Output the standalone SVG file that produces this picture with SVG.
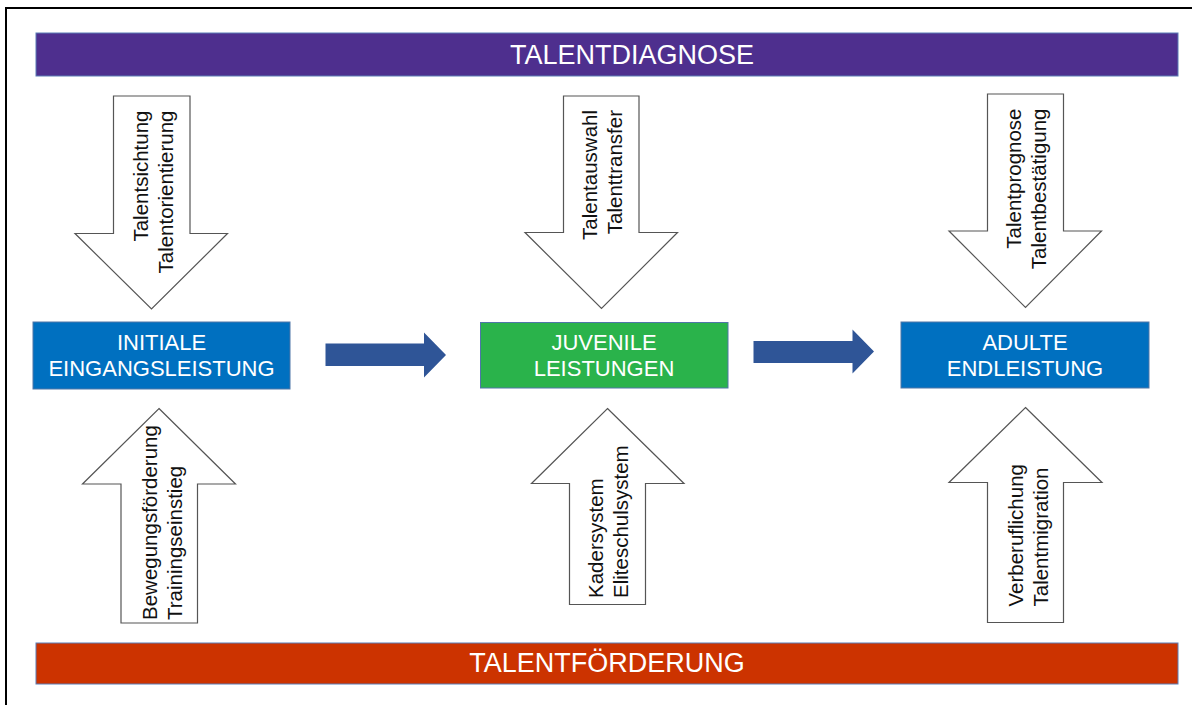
<svg xmlns="http://www.w3.org/2000/svg" width="1192" height="705" viewBox="0 0 1192 705">
<style>
.bar{stroke:#5b7db5;stroke-width:1}
.box{stroke:#4f76a8;stroke-width:1}
.bt{font-family:"Liberation Sans",Arial,sans-serif;font-size:27px;fill:#fff;text-anchor:middle}
.nt{font-family:"Liberation Sans",Arial,sans-serif;font-size:22px;fill:#fff;text-anchor:middle}
.ha{fill:#fff;stroke:#555;stroke-width:1.2}
.vt{font-family:"Liberation Sans",Arial,sans-serif;font-size:20.5px;fill:#111}
.flow{fill:#2f5597}
</style>
<rect width="1192" height="705" fill="#fff"/>
<rect x="6" y="8" width="1200" height="710" fill="none" stroke="#000" stroke-width="2"/>

<g id="talentdiagnose">
<rect class="bar" x="36" y="33" width="1142" height="43" fill="#4e2f8e"/>
<text class="bt" x="632" y="64">TALENTDIAGNOSE</text>
</g>
<g id="talentfoerderung">
<rect class="bar" x="36" y="643" width="1142" height="41" fill="#cc3300"/>
<text class="bt" x="607" y="672">TALENTFÖRDERUNG</text>
</g>

<g id="initiale">
<rect class="box" x="33" y="322" width="257" height="67" fill="#0070c0"/>
<text class="nt" x="161.5" y="349.5">INITIALE</text>
<text class="nt" x="161.5" y="376">EINGANGSLEISTUNG</text>
</g>
<g id="juvenile">
<rect class="box" x="480.5" y="322.5" width="247.5" height="65.5" fill="#2ab34b"/>
<text class="nt" x="604" y="350">JUVENILE</text>
<text class="nt" x="604" y="376">LEISTUNGEN</text>
</g>
<g id="adulte">
<rect class="box" x="901" y="322" width="248" height="66" fill="#0070c0"/>
<text class="nt" x="1025" y="349.5">ADULTE</text>
<text class="nt" x="1025" y="376">ENDLEISTUNG</text>
</g>

<g id="diag-initiale">
<polygon class="ha" points="113.5,96 190,96 190,233.5 227.5,233.5 151.5,309 75,233.5 113.5,233.5"/>
<text class="vt" transform="translate(147.5,110.5) rotate(-90)" text-anchor="end">Talentsichtung</text>
<text class="vt" transform="translate(173,110.5) rotate(-90)" text-anchor="end">Talentorientierung</text>
</g>
<g id="diag-juvenile">
<polygon class="ha" points="563.5,96 639,96 639,232.5 677.5,232.5 601.5,308.5 525,232.5 563.5,232.5"/>
<text class="vt" transform="translate(596.5,110) rotate(-90)" text-anchor="end">Talentauswahl</text>
<text class="vt" transform="translate(621.5,110) rotate(-90)" text-anchor="end">Talenttransfer</text>
</g>
<g id="diag-adulte">
<polygon class="ha" points="987.5,94 1063.5,94 1063.5,231 1101.5,231 1025.5,307.5 949,231 987.5,231"/>
<text class="vt" transform="translate(1021,108.5) rotate(-90)" text-anchor="end">Talentprognose</text>
<text class="vt" transform="translate(1046,108.5) rotate(-90)" text-anchor="end">Talentbestätigung</text>
</g>

<g id="foer-initiale">
<polygon class="ha" points="159,408.5 235.5,484 197.5,484 197.5,623 121,623 121,484 82.5,484"/>
<text class="vt" transform="translate(156.5,620) rotate(-90)">Bewegungsförderung</text>
<text class="vt" transform="translate(181.5,620) rotate(-90)">Trainingseinstieg</text>
</g>
<g id="foer-juvenile">
<polygon class="ha" points="607.5,408.5 684,483.5 645.5,483.5 645.5,604.5 569.5,604.5 569.5,483.5 531.5,483.5"/>
<text class="vt" transform="translate(602.5,598) rotate(-90)">Kadersystem</text>
<text class="vt" transform="translate(628,598) rotate(-90)">Eliteschulsystem</text>
</g>
<g id="foer-adulte">
<polygon class="ha" points="1025.5,407.5 1102,482.5 1063.5,482.5 1063.5,622.5 987.5,622.5 987.5,482.5 949,482.5"/>
<text class="vt" transform="translate(1022.5,606.5) rotate(-90)">Verberuflichung</text>
<text class="vt" transform="translate(1048,606.5) rotate(-90)">Talentmigration</text>
</g>

<g id="connectors">
<polygon class="flow" points="325.5,343.5 424,343.5 424,332.5 446,355 424,377.5 424,366 325.5,366"/>
<polygon class="flow" points="753.5,341 852.5,341 852.5,329.5 874,351.5 852.5,373.5 852.5,363 753.5,363"/>
</g>
</svg>
